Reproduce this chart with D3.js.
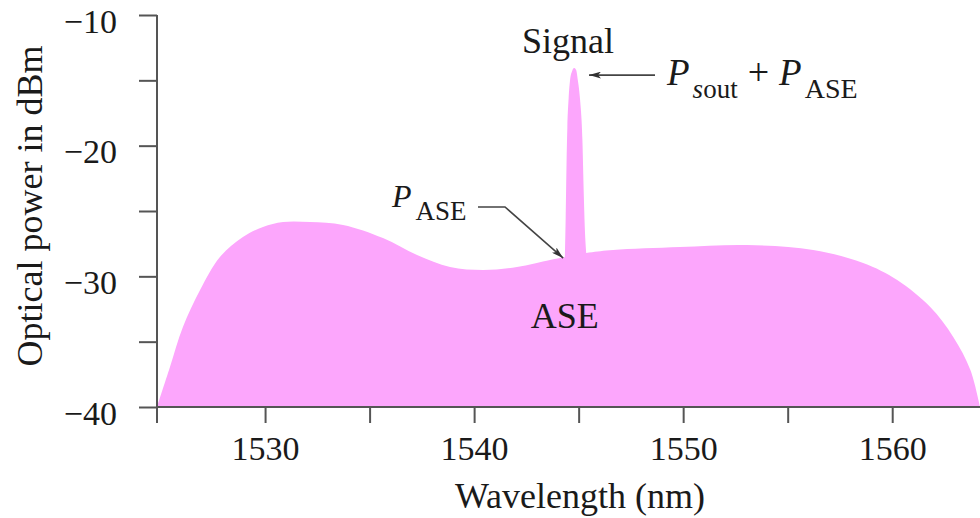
<!DOCTYPE html>
<html><head><meta charset="utf-8">
<script src="https://cdn.jsdelivr.net/npm/d3@7"></script>
<style>body{margin:0;background:#fff} svg{display:block}</style>
</head><body>
<svg id="c" width="980" height="518"></svg>
<script>
// ---- data ----
const aseWavelength = [1524.83, 1525.45, 1526.07, 1526.89, 1527.84, 1528.94, 1529.90, 1530.86, 1532.15, 1533.73, 1535.64, 1537.27, 1538.85, 1540.43, 1542.05, 1543.63, 1544.2, 1545.5, 1546.65, 1549.85, 1553.06, 1556.22, 1558.61, 1560.24, 1561.82, 1562.92, 1563.74, 1564.2];
const asePower      = [-40, -36.94, -33.88, -31.05, -28.52, -26.99, -26.22, -25.84, -25.84, -26.07, -27.07, -28.37, -29.29, -29.52, -29.29, -28.75, -28.58, -28.18, -27.98, -27.75, -27.6, -27.98, -28.98, -30.28, -32.35, -34.64, -37.17, -40];
const signalWavelength = [1544.34, 1544.38, 1544.42, 1544.46, 1544.52, 1544.59, 1544.69, 1544.78, 1544.88, 1544.96, 1545.07, 1545.18, 1545.24, 1545.30, 1545.36];
const signalPower      = [-28.55, -25.5, -21.5, -18.6, -16.4, -14.97, -14.29, -14.06, -14.21, -14.97, -16.5, -19.57, -23.39, -26.5, -28.2];
const xMajorTicks = [1530, 1540, 1550, 1560];
const xMinorTicks = [1535, 1545, 1555];
const yMajorTicks = [-10, -20, -30, -40];
const yMinorTicks = [-15, -25, -35];
const xDomain = [1524.83, 1564.2];
const yDomain = [-40, -10];

// ---- layout ----
const svg = d3.select("#c");
const mLeft = 157, mRight = 980, mTop = 15, mBottom = 407;
const x = d3.scaleLinear().domain(xDomain).range([mLeft, mRight]);
const y = d3.scaleLinear().domain(yDomain).range([mBottom, mTop]);
const FONT = "'Liberation Serif','Times New Roman',serif";
const axisColor = "#555";
const textColor = "#1a1a1a";
const fillColor = "#fca6fc";

const ase = aseWavelength.map((w, i) => ({w, p: asePower[i]}));
const signal = signalWavelength.map((w, i) => ({w, p: signalPower[i]}));

const defs = svg.append("defs");
defs.append("clipPath").attr("id", "plot").append("rect")
  .attr("x", mLeft).attr("y", 0).attr("width", mRight - mLeft).attr("height", mBottom);
defs.append("marker").attr("id", "arr").attr("viewBox", "0 0 12 7")
  .attr("refX", 12).attr("refY", 3.5).attr("markerWidth", 12).attr("markerHeight", 7)
  .attr("markerUnits", "userSpaceOnUse").attr("orient", "auto")
  .append("path").attr("d", "M0,0 L12,3.5 L0,7 L3,3.5 z").attr("fill", "#333");

const aseArea = d3.area().x(d => x(d.w)).y0(y(-40)).y1(d => y(d.p)).curve(d3.curveCatmullRom.alpha(0.5));
const sigArea = d3.area().x(d => x(d.w)).y0(y(-40)).y1(d => y(d.p)).curve(d3.curveMonotoneX);
const plot = svg.append("g").attr("clip-path", "url(#plot)");
plot.append("path").datum(ase).attr("d", aseArea).attr("fill", fillColor);
plot.append("path").datum(signal).attr("d", sigArea).attr("fill", fillColor);

// ---- axes ----
const yAxis = d3.axisLeft(y).tickValues(yMajorTicks.concat(yMinorTicks)).tickSize(18).tickPadding(22)
  .tickFormat(d => yMajorTicks.includes(d) ? String(d).replace("-", "\u2212") : "");
const gy = svg.append("g").attr("transform", `translate(${mLeft},0)`).call(yAxis);
gy.select(".domain").remove();
gy.selectAll(".tick line").attr("stroke", axisColor).attr("stroke-width", 2);
gy.selectAll(".tick text").attr("font-family", FONT).attr("font-size", 34).attr("fill", textColor)
  .attr("dy", null).attr("y", 0).attr("transform", "translate(0,17)");

const xAxis = d3.axisBottom(x).tickValues(xMajorTicks.concat(xMinorTicks)).tickSize(16).tickPadding(12)
  .tickFormat(d => xMajorTicks.includes(d) ? String(d) : "");
const gx = svg.append("g").attr("transform", `translate(0,${mBottom})`).call(xAxis);
gx.select(".domain").remove();
gx.selectAll(".tick line").attr("stroke", axisColor).attr("stroke-width", 2);
gx.selectAll(".tick text").attr("font-family", FONT).attr("font-size", 34).attr("fill", textColor)
  .attr("dy", null).attr("y", 53);

svg.append("line").attr("x1", mLeft).attr("x2", mRight).attr("y1", mBottom).attr("y2", mBottom)
  .attr("stroke", axisColor).attr("stroke-width", 2);
svg.append("line").attr("x1", mLeft).attr("x2", mLeft).attr("y1", y(-10)).attr("y2", mBottom + 16)
  .attr("stroke", axisColor).attr("stroke-width", 2);

// axis titles
svg.append("text").attr("x", 580).attr("y", 508).attr("text-anchor", "middle")
  .attr("font-family", FONT).attr("font-size", 36).attr("fill", textColor).text("Wavelength (nm)");
svg.append("text").attr("transform", "translate(42,206) rotate(-90)").attr("text-anchor", "middle")
  .attr("font-family", FONT).attr("font-size", 36).attr("fill", textColor).text("Optical power in dBm");

// ---- annotations ----
const peakIdx = d3.maxIndex(signalPower);
const peakX = x(signalWavelength[peakIdx]);
svg.append("text").attr("x", peakX - 6).attr("y", 53).attr("text-anchor", "middle")
  .attr("font-family", FONT).attr("font-size", 36).attr("fill", textColor).text("Signal");

svg.append("text").attr("x", x(signalWavelength[0])).attr("y", 328).attr("text-anchor", "middle")
  .attr("font-family", FONT).attr("font-size", 36).attr("fill", textColor).text("ASE");

// Psout + PASE
svg.append("line").attr("x1", 655).attr("y1", y(-14.6)).attr("x2", peakX + 15).attr("y2", y(-14.6))
  .attr("stroke", "#444").attr("stroke-width", 1.6).attr("marker-end", "url(#arr)");
const t1 = svg.append("text").attr("x", 667).attr("y", 85).attr("font-family", FONT).attr("fill", textColor);
t1.append("tspan").attr("font-size", 37).attr("font-style", "italic").text("P");
t1.append("tspan").attr("font-size", 27).attr("font-style", "italic").attr("dx", 3).attr("dy", 13).text("s");
t1.append("tspan").attr("font-size", 27).text("out");
t1.append("tspan").attr("font-size", 38).attr("dy", -13).attr("dx", 10).text("+");
t1.append("tspan").attr("font-size", 37).attr("font-style", "italic").attr("dx", 10).text("P");
t1.append("tspan").attr("font-size", 28).attr("dy", 13).attr("dx", 3).text("ASE");

// PASE
const t2 = svg.append("text").attr("x", 392).attr("y", 207).attr("font-family", FONT).attr("fill", textColor);
t2.append("tspan").attr("font-size", 32).attr("font-style", "italic").text("P");
t2.append("tspan").attr("font-size", 27).attr("dy", 13).attr("dx", 4).text("ASE");
svg.append("path").attr("d", `M478,207 L505,207 L${x(1544.26)},${y(-28.6)}`)
  .attr("fill", "none").attr("stroke", "#444").attr("stroke-width", 1.6).attr("marker-end", "url(#arr)");
</script>
</body></html>
